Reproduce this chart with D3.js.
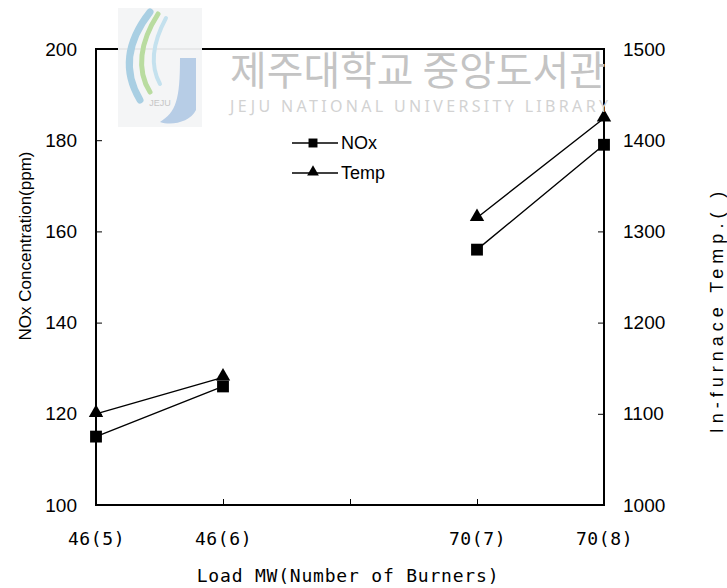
<!DOCTYPE html>
<html>
<head>
<meta charset="utf-8">
<script src="https://cdn.jsdelivr.net/npm/d3@7"></script>
<style>
  body { margin: 0; background: #fff; }
  svg { display: block; }
</style>
</head>
<body>
<svg id="chart" width="727" height="588"></svg>
<script>
// data
var loadLabels = ["46(5)", "46(6)", "", "70(7)", "70(8)"];
var noxValues = [115, 126, null, 156, 179];
var tempValues = [1100, 1140, null, 1315, 1424];
var noxTicks = [100, 120, 140, 160, 180, 200];
var tempTicks = [1000, 1100, 1200, 1300, 1400, 1500];

var svg = d3.select("#chart");

// plot box (window.top is reserved, so keep names distinct)
var plotLeft = 96, plotRight = 604, plotTop = 49, plotBottom = 505;

var x = d3.scaleLinear().domain([0, loadLabels.length - 1]).range([plotLeft, plotRight]);
var yL = d3.scaleLinear().domain([100, 200]).range([plotBottom, plotTop]);
var yR = d3.scaleLinear().domain([1000, 1500]).range([plotBottom, plotTop]);

var numFont = "'Liberation Sans', Arial, sans-serif";
var monoFont = "'DejaVu Sans Mono', monospace";

// axes
var gx = svg.append("g")
    .attr("transform", "translate(0," + plotBottom + ")")
    .call(d3.axisBottom(x)
        .tickValues(d3.range(loadLabels.length))
        .tickFormat(function (i) { return loadLabels[i]; })
        .tickSize(-6).tickSizeOuter(0).tickPadding(27));

var gl = svg.append("g")
    .attr("transform", "translate(" + plotLeft + ",0)")
    .call(d3.axisLeft(yL).tickValues(noxTicks).tickFormat(d3.format("d"))
        .tickSize(-6).tickSizeOuter(0).tickPadding(19));

var gr = svg.append("g")
    .attr("transform", "translate(" + plotRight + ",0)")
    .call(d3.axisRight(yR).tickValues(tempTicks).tickFormat(d3.format("d"))
        .tickSize(-6).tickSizeOuter(0).tickPadding(19));

[gx, gl, gr].forEach(function (g) {
    g.select(".domain").remove();
    g.selectAll("line").attr("stroke", "#000").attr("stroke-width", 1);
});
gl.selectAll("text").attr("font-family", numFont).attr("font-size", 19).attr("fill", "#000");
gr.selectAll("text").attr("font-family", numFont).attr("font-size", 19).attr("fill", "#000");
gx.selectAll("text").attr("font-family", monoFont).attr("font-size", 18)
    .attr("letter-spacing", 0.6).attr("fill", "#000");

// frame
svg.append("rect")
    .attr("x", plotLeft).attr("y", plotTop)
    .attr("width", plotRight - plotLeft).attr("height", plotBottom - plotTop)
    .attr("fill", "none").attr("stroke", "#000").attr("stroke-width", 2);

// lines
var noxLine = d3.line()
    .defined(function (d) { return d != null; })
    .x(function (d, i) { return x(i); })
    .y(function (d) { return yL(d); });

var tempLine = d3.line()
    .defined(function (d) { return d != null; })
    .x(function (d, i) { return x(i); })
    .y(function (d) { return yR(d); });

svg.append("path").datum(noxValues)
    .attr("d", noxLine).attr("fill", "none").attr("stroke", "#000").attr("stroke-width", 1.4);
svg.append("path").datum(tempValues)
    .attr("d", tempLine).attr("fill", "none").attr("stroke", "#000").attr("stroke-width", 1.4);

var square = d3.symbol().type(d3.symbolSquare).size(140);
var triangle = d3.symbol().type(d3.symbolTriangle).size(90);

svg.append("g").selectAll("path")
    .data(noxValues.map(function (v, i) { return { v: v, i: i }; }).filter(function (d) { return d.v != null; }))
    .enter().append("path")
    .attr("d", square)
    .attr("transform", function (d) { return "translate(" + x(d.i) + "," + yL(d.v) + ")"; })
    .attr("fill", "#000");

svg.append("g").selectAll("path")
    .data(tempValues.map(function (v, i) { return { v: v, i: i }; }).filter(function (d) { return d.v != null; }))
    .enter().append("path")
    .attr("d", triangle)
    .attr("transform", function (d) { return "translate(" + x(d.i) + "," + (yR(d.v) - 1) + ")"; })
    .attr("fill", "#000");

// legend
var legend = [
    { name: "NOx", sym: d3.symbol().type(d3.symbolSquare).size(80), y: 143 },
    { name: "Temp", sym: d3.symbol().type(d3.symbolTriangle).size(60), y: 173 }
];
legend.forEach(function (d) {
    svg.append("line").attr("x1", 292).attr("x2", 338).attr("y1", d.y).attr("y2", d.y)
        .attr("stroke", "#000").attr("stroke-width", 1.4);
    svg.append("path").attr("d", d.sym).attr("transform", "translate(313," + (d.y - (d.name == "Temp" ? 1 : 0)) + ")");
    svg.append("text").attr("x", 341).attr("y", d.y).attr("dy", "0.36em")
        .attr("font-family", numFont).attr("font-size", 18).text(d.name);
});

// axis titles
svg.append("text")
    .attr("x", 348).attr("y", 576).attr("dy", "0.36em")
    .attr("text-anchor", "middle")
    .attr("font-family", monoFont).attr("font-size", 18).attr("letter-spacing", 0.8)
    .text("Load MW(Number of Burners)");

svg.append("text")
    .attr("transform", "translate(25,246) rotate(-90)")
    .attr("dy", "0.36em").attr("text-anchor", "middle")
    .attr("font-family", numFont).attr("font-size", 17)
    .text("NOx Concentration(ppm)");

svg.append("text")
    .attr("transform", "translate(717,310) rotate(-90)")
    .attr("dy", "0.36em").attr("text-anchor", "middle")
    .attr("font-family", numFont).attr("font-size", 18).attr("letter-spacing", 5)
    .text("In-furnace Temp.(  )");

// library watermark
var wm = svg.append("g");
wm.append("rect").attr("x", 118).attr("y", 8).attr("width", 84).attr("height", 119)
    .attr("fill", "#f3f4f6").attr("opacity", 0.95);
wm.append("path").attr("d", "M150,12 C128,40 122,70 140,100")
    .attr("fill", "none").attr("stroke", "#a9cfe3").attr("stroke-width", 7).attr("stroke-linecap", "round");
wm.append("path").attr("d", "M158,14 C140,42 136,70 150,92")
    .attr("fill", "none").attr("stroke", "#b9dca0").attr("stroke-width", 5).attr("stroke-linecap", "round");
wm.append("path").attr("d", "M166,18 C152,44 150,66 160,84")
    .attr("fill", "none").attr("stroke", "#c4e1ee").attr("stroke-width", 4).attr("stroke-linecap", "round");
wm.append("path").attr("d", "M180,58 L196,58 L196,110 C190,122 172,126 160,122 C176,112 180,100 180,58 Z")
    .attr("fill", "#b7cde6");
wm.append("text").attr("x", 160).attr("y", 106).attr("text-anchor", "middle")
    .attr("font-family", numFont).attr("font-size", 9).attr("fill", "#c6c6c6").text("JEJU");

wm.append("text").attr("x", 230).attr("y", 85)
    .attr("font-family", "'Noto Sans CJK KR', sans-serif").attr("font-size", 40)
    .attr("textLength", 376).attr("lengthAdjust", "spacingAndGlyphs")
    .attr("fill", "#c4c4c4").text("제주대학교 중앙도서관");
wm.append("text").attr("x", 230).attr("y", 112)
    .attr("font-family", "'Noto Sans', sans-serif").attr("font-size", 16)
    .attr("textLength", 378).attr("lengthAdjust", "spacing")
    .attr("fill", "#d2d2d2").text("JEJU NATIONAL UNIVERSITY LIBRARY");
</script>
</body>
</html>
